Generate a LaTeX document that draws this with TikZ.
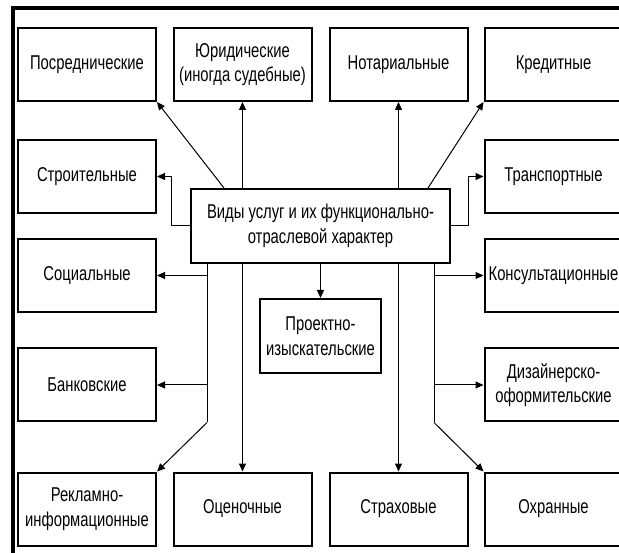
\documentclass[tikz,border=0pt]{standalone}
\usepackage{fontspec}
\setmainfont{Liberation Sans}[FakeStretch=0.74]
\usetikzlibrary{arrows.meta,calc}
\begin{document}
\begin{tikzpicture}[x=1pt,y=-1pt,
  box/.style={draw,line width=2pt,minimum width=138pt,minimum height=73pt,inner sep=0pt,align=center,
    font=\fontsize{20}{24.5}\selectfont},
  conn/.style={line width=1pt},
  arr/.style={conn,-{Triangle[length=8pt,width=7pt]}}]
\useasboundingbox (0,0) rectangle (619,553);
\clip (0,0) rectangle (619,553);
\draw[line width=4pt] (12.5,8) rectangle (660,600);
% row 1
\node[box] (pos) at (87,64.5) {Посреднические};
\node[box] (yur) at (242.5,64.5) {Юридические\\(иногда судебные)};
\node[box] (not) at (398.5,64.5) {Нотариальные};
\node[box] (kred) at (553.5,64.5) {Кредитные};
% row 2
\node[box] (stroi) at (87,176.5) {Строительные};
\node[box] (trans) at (553.5,176.5) {Транспортные};
% centre
\node[box,minimum width=259pt,minimum height=74pt] (cen) at (320.5,226) {Виды услуг и их функционально-\\отраслевой характер};
% row 3
\node[box] (soc) at (87,275.5) {Социальные};
\node[box] (kons) at (553.5,275.5) {Консультационные};
\node[box,minimum width=121pt,minimum height=74pt] (proj) at (320.5,336) {Проектно-\\изыскательские};
% row 4
\node[box] (bank) at (87,385) {Банковские};
\node[box] (diz) at (553.5,385) {Дизайнерско-\\оформительские};
% row 5
\node[box] (rekl) at (87,509) {Рекламно-\\информационные};
\node[box] (ocen) at (242.5,509) {Оценочные};
\node[box] (strah) at (398.5,509) {Страховые};
\node[box] (ohr) at (553.5,509) {Охранные};
% upward connectors
\draw[arr] ($(cen.north west)+(34,0)$) -- (pos.south east);
\draw[arr] (yur.south |- cen.north) -- (yur.south);
\draw[arr] (not.south |- cen.north) -- (not.south);
\draw[arr] ($(cen.north east)+(-23,0)$) -- (kred.south west);
\draw[arr] (cen.west) -- ++(-19,0) |- (stroi.east);
\draw[arr] (cen.east) -- ++(17,0) |- (trans.west);
% downward connectors
\coordinate (L) at ($(cen.south west)+(17,0)$);
\coordinate (Lb) at (L |- bank.south);
\draw[conn] (L) -- (Lb);
\draw[arr] (Lb) -- (rekl.north east);
\draw[arr] (L |- soc.east) -- (soc.east);
\draw[arr] (L |- bank.east) -- (bank.east);
\draw[arr] (ocen.north |- cen.south) -- (ocen.north);
\draw[arr] (cen.south) -- (proj.north);
\draw[arr] (strah.north |- cen.south) -- (strah.north);
\coordinate (R) at ($(cen.south east)+(-17,0)$);
\coordinate (Rb) at (R |- diz.south);
\draw[conn] (R) -- (Rb);
\draw[arr] (Rb) -- (ohr.north west);
\draw[arr] (R |- kons.west) -- (kons.west);
\draw[arr] (R |- diz.west) -- (diz.west);
\end{tikzpicture}
\end{document}
